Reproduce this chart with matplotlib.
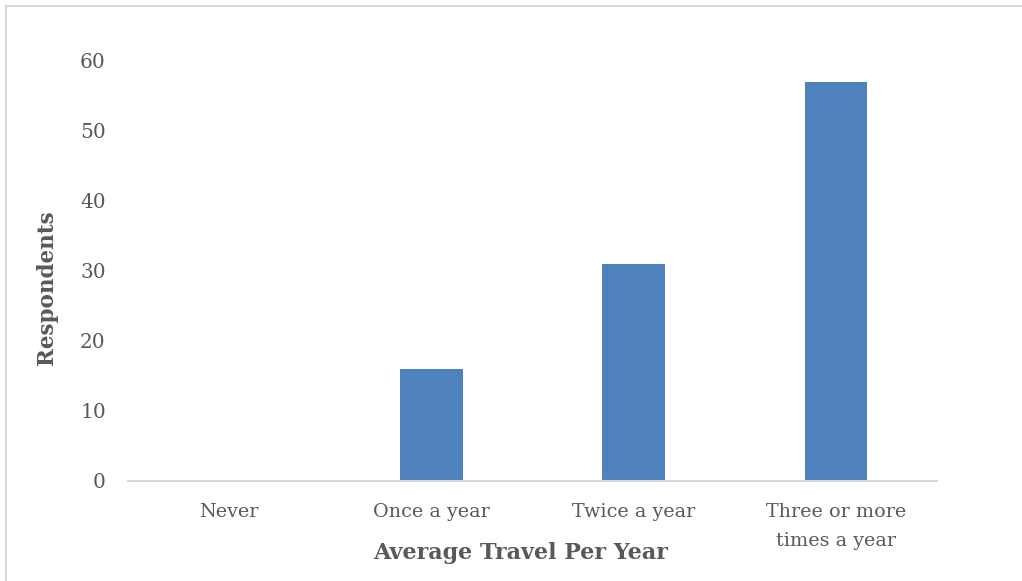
import matplotlib.pyplot as plt
from matplotlib.patches import Rectangle

# Survey: how often respondents travel
categories = ['Never', 'Once a year', 'Twice a year', 'Three or more\ntimes a year']
respondents = [0, 16, 31, 57]
yticks = [0, 10, 20, 30, 40, 50, 60]

bar_color = '#4f81bd'
text_color = '#595959'
grid_gray = '#d9d9d9'

plt.rcParams['font.family'] = ['DejaVu Serif']

W, H = 1022, 581
fig = plt.figure(figsize=(W / 100, H / 100), dpi=100)
ax = fig.add_axes([128 / W, 100 / H, (937 - 128) / W, (481 - 61) / H])

x = range(len(categories))
ax.bar(x, respondents, width=0.31, color=bar_color, zorder=2)

ax.set_xlim(-0.5, len(categories) - 0.5)
ax.set_ylim(0, 60)
ax.set_yticks(yticks)
ax.set_xticks(list(x))
ax.set_xticklabels(categories, fontsize=13.8, color=text_color, linespacing=1.8)
ax.set_yticklabels([str(v) for v in yticks], fontsize=14.5, color=text_color)

for side in ['top', 'right', 'left']:
    ax.spines[side].set_visible(False)
ax.spines['bottom'].set_color(grid_gray)
ax.spines['bottom'].set_linewidth(1.5)
ax.tick_params(axis='both', length=0)
ax.tick_params(axis='x', pad=16)
ax.tick_params(axis='y', pad=16)

# axis titles placed on the figure
fig.text(521 / W, 1 - 553 / H, 'Average Travel Per Year', fontsize=16,
         fontweight='bold', color=text_color, ha='center', va='center')
fig.text(47 / W, 1 - 288 / H, 'Respondents', fontsize=15.5, fontweight='bold',
         color=text_color, ha='center', va='center', rotation=90)

# thin frame around the chart area
fig.add_artist(Rectangle((6 / W, -0.05), 1.1, 1 - 6 / H + 0.05,
                         transform=fig.transFigure, fill=False,
                         edgecolor='#d9d9d9', linewidth=1.5))

fig.savefig('out.png', dpi=100)
